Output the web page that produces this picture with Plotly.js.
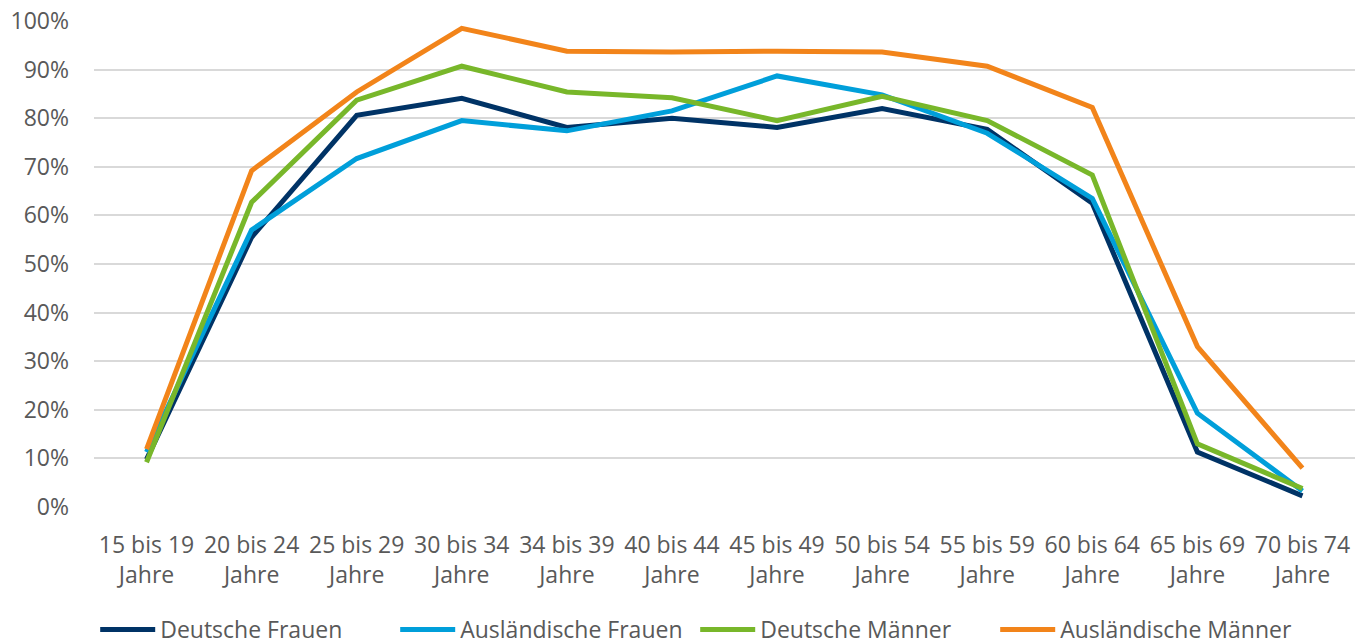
<!DOCTYPE html>
<html>
<head>
<meta charset="utf-8">
<script src="https://cdn.plot.ly/plotly-3.0.1.min.js"></script>
<style>html,body{margin:0;padding:0;background:#fff;}#chart{width:1360px;height:641px;}</style>
</head>
<body>
<div id="chart"></div>
<script>
const categories = ["15 bis 19<br>Jahre","20 bis 24<br>Jahre","25 bis 29<br>Jahre","30 bis 34<br>Jahre","34 bis 39<br>Jahre","40 bis 44<br>Jahre","45 bis 49<br>Jahre","50 bis 54<br>Jahre","55 bis 59<br>Jahre","60 bis 64<br>Jahre","65 bis 69<br>Jahre","70 bis 74<br>Jahre"];
const deutscheFrauen = [0.098,0.555,0.806,0.841,0.781,0.800,0.781,0.820,0.777,0.625,0.113,0.023];
const auslaendischeFrauen = [0.113,0.570,0.717,0.795,0.774,0.815,0.887,0.848,0.769,0.635,0.193,0.033];
const deutscheMaenner = [0.092,0.627,0.837,0.907,0.854,0.842,0.795,0.845,0.795,0.683,0.130,0.038];
const auslaendischeMaenner = [0.119,0.692,0.854,0.985,0.938,0.936,0.938,0.936,0.907,0.822,0.330,0.080];
const seriesNames = ["Deutsche Frauen","Ausländische Frauen","Deutsche Männer","Ausländische Männer"];
const yTickVals = [0,0.1,0.2,0.3,0.4,0.5,0.6,0.7,0.8,0.9,1.0];
const yTickText = ["0%","10%","20%","30%","40%","50%","60%","70%","80%","90%","100%"];

const colors = ["#003366","#009FDA","#78B72A","#F2841A"];
const seriesData = [deutscheFrauen, auslaendischeFrauen, deutscheMaenner, auslaendischeMaenner];
const FONT = "Open Sans, Lato, sans-serif";

const traces = seriesData.map((vals,i)=>({
  type:"scatter", mode:"lines",
  x: categories, y: vals, name: seriesNames[i],
  line:{color:colors[i], width:5, shape:"linear"},
  hoverinfo:"skip"
}));

const layout = {
  width:1360, height:641,
  margin:{l:94, r:5, t:21, b:134, autoexpand:false},
  paper_bgcolor:"#fff", plot_bgcolor:"#fff",
  font:{family:FONT, size:23, color:"#595959"},
  showlegend:true,
  legend:{
    orientation:"h", xref:"container", yref:"paper",
    x:0.07, xanchor:"left", y:-0.252, yanchor:"middle",
    entrywidth:230, entrywidthmode:"pixels",
    itemwidth:55,
    font:{family:FONT, size:23, color:"#595959"},
    bgcolor:"rgba(0,0,0,0)"
  },
  xaxis:{
    type:"category", range:[-0.5,11.5],
    showgrid:false, zeroline:false, showline:false,
    ticks:"", ticklabelstandoff:22, tickangle:0, automargin:false,
    tickfont:{family:FONT, size:23, color:"#595959"},
    fixedrange:true
  },
  yaxis:{
    range:[0,1.0], tickvals:yTickVals, ticktext:yTickText,
    showgrid:true, gridcolor:"#D9D9D9", gridwidth:2,
    zeroline:false, showline:false, ticks:"", automargin:false,
    ticklabelstandoff:24,
    tickfont:{family:FONT, size:23, color:"#595959"},
    fixedrange:true
  }
};

Plotly.newPlot("chart", traces, layout, {displayModeBar:false, staticPlot:true});
</script>
</body>
</html>
